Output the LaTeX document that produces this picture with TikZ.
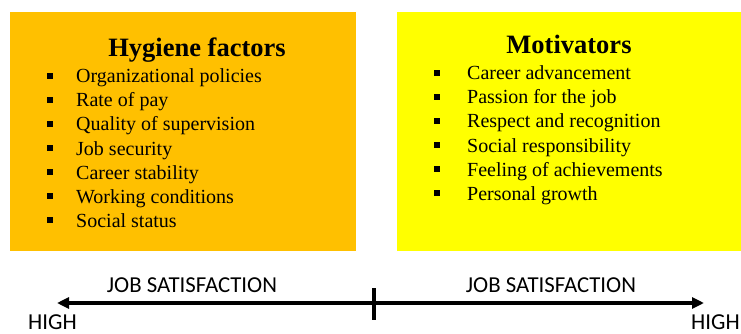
\documentclass[tikz,border=0pt]{standalone}
\usepackage{fontspec}
\setmainfont{Liberation Serif}
\newfontfamily\axisfont{Carlito}
\usetikzlibrary{arrows.meta}
\definecolor{hygorange}{RGB}{255,192,0}
\definecolor{motyellow}{RGB}{255,255,0}

\begin{document}
\begin{tikzpicture}[x=1pt,y=-1pt,
  title/.style={anchor=base,inner sep=0pt,font=\fontsize{26.5}{30}\selectfont\bfseries},
  item/.style={anchor=base west,inner sep=0pt,font=\fontsize{20}{24}\selectfont},
  bullet/.style={fill=black,inner sep=0pt,minimum size=5.6pt},
  axislabel/.style={inner sep=0pt,font=\fontsize{22.8}{26}\selectfont\axisfont},
  axis/.style={line width=3.2pt}]
\useasboundingbox (0,0) rectangle (741,334);
% the two boxes
\fill[hygorange] (10,12.5) rectangle (355.5,250.5);
\fill[motyellow] (397,12.5) rectangle (741,250.5);
\node[title] (hygiene) at (197,57) {Hygiene factors};
\node[title] (motiv) at (569,54) {Motivators};
\foreach \txt [count=\i] in {Organizational policies,Rate of pay,Quality of supervision,Job security,Career stability,Working conditions,Social status} {
  \node[bullet] (hb\i) at (50,{52+24*\i}) {};
  \node[item] (h\i) at (76,{59+24*\i}) {\txt};
}
\foreach \txt [count=\i] in {Career advancement,Passion for the job,Respect and recognition,Social responsibility,Feeling of achievements,Personal growth} {
  \node[bullet] (mb\i) at (437,{49+24*\i}) {};
  \node[item] (m\i) at (467,{56+24*\i}) {\txt};
}
% satisfaction axis
\coordinate (mid) at (374,303);
\coordinate (lend) at (57,303);
\coordinate (rend) at (704,303);
\coordinate (ticktop) at (374,288);
\coordinate (tickbot) at (374,320);
\draw[axis,-{Triangle[length=12pt,width=11pt]}] (mid) -- (lend);
\draw[axis,-{Triangle[length=12pt,width=11pt]}] (mid) -- (rend);
\draw[axis] (ticktop) -- (tickbot);
\node[axislabel,anchor=base] (jsl) at (192,292) {JOB SATISFACTION};
\node[axislabel,anchor=base] (jsr) at (551,292) {JOB SATISFACTION};
\node[axislabel,anchor=base west] (highl) at (28,329) {HIGH};
\node[axislabel,anchor=base west] (highr) at (691,329) {HIGH};
\end{tikzpicture}
\end{document}
